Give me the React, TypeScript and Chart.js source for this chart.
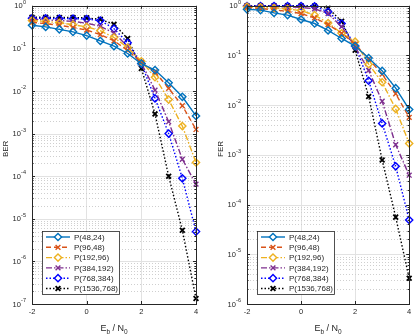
import React, { useEffect, useRef } from 'react';
import { Chart, registerables } from 'chart.js';

Chart.register(...registerables);

// ---------------- data ----------------
const ebn0 = [-2, -1.5, -1, -0.5, 0, 0.5, 1, 1.5, 2, 2.5, 3, 3.5, 4];
const seriesLabels = ['P(48,24)', 'P(96,48)', 'P(192,96)', 'P(384,192)', 'P(768,384)', 'P(1536,768)'];
const xTicks = [-2, 0, 2, 4];

const ber48 = [0.35, 0.32, 0.28, 0.245, 0.2, 0.15, 0.113, 0.076, 0.044, 0.031, 0.0156, 0.0073, 0.0026];
const ber96 = [0.41, 0.38, 0.35, 0.31, 0.27, 0.21, 0.15, 0.09, 0.047, 0.028, 0.0115, 0.0045, 0.00125];
const ber192 = [0.45, 0.43, 0.4, 0.36, 0.32, 0.26, 0.18, 0.105, 0.05, 0.021, 0.0063, 0.0015, 0.00021];
const ber384 = [0.48, 0.47, 0.45, 0.43, 0.39, 0.33, 0.23, 0.11, 0.045, 0.0105, 0.0019, 0.00025, 0.000065];
const ber768 = [0.51, 0.51, 0.5, 0.5, 0.49, 0.45, 0.29, 0.135, 0.044, 0.0067, 0.001, 0.000089, 0.000005];
const ber1536 = [0.54, 0.54, 0.53, 0.53, 0.52, 0.48, 0.37, 0.17, 0.034, 0.0029, 0.0001, 0.0000054, 0.000000135];

const fer48 = [0.85, 0.82, 0.72, 0.65, 0.53, 0.44, 0.32, 0.22, 0.155, 0.089, 0.049, 0.022, 0.0082];
const fer96 = [0.92, 0.88, 0.83, 0.77, 0.7, 0.57, 0.42, 0.28, 0.17, 0.085, 0.042, 0.017, 0.0057];
const fer192 = [0.96, 0.93, 0.9, 0.86, 0.8, 0.65, 0.45, 0.28, 0.19, 0.067, 0.029, 0.0084, 0.0017];
const fer384 = [0.98, 0.97, 0.96, 0.95, 0.93, 0.87, 0.7, 0.38, 0.15, 0.05, 0.012, 0.0016, 0.00039];
const fer768 = [0.99, 0.99, 0.99, 0.99, 0.99, 0.98, 0.76, 0.44, 0.155, 0.031, 0.0043, 0.00059, 0.000049];
const fer1536 = [1, 1, 1, 1, 1, 0.99, 0.89, 0.49, 0.128, 0.015, 0.00079, 0.000056, 0.0000033];

const berSeries = [ber48, ber96, ber192, ber384, ber768, ber1536];
const ferSeries = [fer48, fer96, fer192, fer384, fer768, fer1536];

// ---------------- styles ----------------
const FONT = '"Liberation Sans", Arial, Helvetica, sans-serif';
const TXT = '#262626';
const colors = ['#0072BD', '#D95319', '#EDB120', '#7E2F8E', '#0000FF', '#000000'];
const dashes: number[][] = [[], [5, 3], [6, 2, 1.5, 2], [6, 2, 1.5, 2], [1.5, 2], [1.5, 2]];
const markers = ['diamond', 'x', 'diamond', 'x', 'diamond', 'x'];

function buildDatasets(series: number[][]) {
  return series.map((vals, i) => ({
    label: seriesLabels[i],
    data: vals.map((v, j) => ({ x: ebn0[j], y: v })),
    borderColor: colors[i],
    borderWidth: 1.4,
    borderDash: dashes[i],
    pointStyle: markers[i] === 'diamond' ? 'rectRot' : 'crossRot',
    pointRadius: markers[i] === 'diamond' ? 3.6 : 3.4,
    pointBorderWidth: i === 5 ? 1.8 : 1.4,
    pointBackgroundColor: 'rgba(0,0,0,0)',
    pointBorderColor: colors[i],
    fill: false,
    tension: 0,
    clip: false as any,
  }));
}

function drawMarker(ctx: CanvasRenderingContext2D, kind: string, x: number, y: number, color: string, lw: number) {
  ctx.save();
  ctx.setLineDash([]);
  ctx.strokeStyle = color;
  ctx.lineWidth = lw;
  ctx.beginPath();
  if (kind === 'diamond') {
    const r = 3.6;
    ctx.moveTo(x, y - r);
    ctx.lineTo(x + r, y);
    ctx.lineTo(x, y + r);
    ctx.lineTo(x - r, y);
    ctx.closePath();
    ctx.fillStyle = '#fff';
    ctx.fill();
  } else {
    const r = 2.4;
    ctx.moveTo(x - r, y - r);
    ctx.lineTo(x + r, y + r);
    ctx.moveTo(x - r, y + r);
    ctx.lineTo(x + r, y - r);
  }
  ctx.stroke();
  ctx.restore();
}

function makePlugin(yTitle: string, minExp: number) {
  return {
    id: 'matlabLook' + yTitle,
    beforeDatasetsDraw(chart: any) {
      const { ctx, chartArea: a } = chart;
      const ys = chart.scales.y;
      ctx.save();
      for (let k = minExp; k <= 0; k++) {
        for (let m = 1; m <= 9; m++) {
          const v = m * Math.pow(10, k);
          if (v > 1 + 1e-9) continue;
          const py = Math.round(ys.getPixelForValue(v)) + 0.5;
          ctx.beginPath();
          if (m === 1) {
            ctx.setLineDash([]);
            ctx.strokeStyle = '#e2e2e2';
          } else {
            ctx.setLineDash([1, 2]);
            ctx.strokeStyle = '#cfcfcf';
          }
          ctx.lineWidth = 1;
          ctx.moveTo(a.left, py);
          ctx.lineTo(a.right, py);
          ctx.stroke();
        }
      }
      ctx.restore();
    },
    afterDatasetsDraw(chart: any) {
      const { ctx, chartArea: a } = chart;
      const ys = chart.scales.y;
      const xs = chart.scales.x;
      ctx.save();
      // box
      ctx.setLineDash([]);
      ctx.strokeStyle = TXT;
      ctx.lineWidth = 1;
      ctx.strokeRect(Math.round(a.left) + 0.5, Math.round(a.top) + 0.5, Math.round(a.right - a.left), Math.round(a.bottom - a.top));
      // tick marks
      ctx.beginPath();
      for (const t of xTicks) {
        const px = Math.round(xs.getPixelForValue(t)) + 0.5;
        ctx.moveTo(px, a.bottom);
        ctx.lineTo(px, a.bottom - 3);
        ctx.moveTo(px, a.top);
        ctx.lineTo(px, a.top + 3);
      }
      for (let k = minExp; k <= 0; k++) {
        for (let m = 1; m <= 9; m++) {
          const v = m * Math.pow(10, k);
          if (v > 1 + 1e-9) continue;
          const py = Math.round(ys.getPixelForValue(v)) + 0.5;
          const len = m === 1 ? 3 : 1.6;
          ctx.moveTo(a.left, py);
          ctx.lineTo(a.left + len, py);
          ctx.moveTo(a.right, py);
          ctx.lineTo(a.right - len, py);
        }
      }
      ctx.stroke();
      // y tick labels 10^k
      ctx.fillStyle = TXT;
      for (let k = minExp; k <= 0; k++) {
        const py = ys.getPixelForValue(Math.pow(10, k));
        const exp = String(k);
        ctx.font = `5.5px ${FONT}`;
        ctx.textAlign = 'right';
        ctx.textBaseline = 'middle';
        const right = a.left - 6;
        const ew = ctx.measureText(exp).width;
        ctx.fillText(exp, right, py - 3.5);
        ctx.font = `7.5px ${FONT}`;
        ctx.fillText('10', right - ew - 0.3, py + 0.5);
      }
      // y title
      ctx.save();
      ctx.translate(a.left - 26, (a.top + a.bottom) / 2 - 6);
      ctx.rotate(-Math.PI / 2);
      ctx.font = `8px ${FONT}`;
      ctx.textAlign = 'center';
      ctx.textBaseline = 'middle';
      ctx.fillText(yTitle, 0, 0);
      ctx.restore();
      // x title  E_b / N_0
      const parts: [string, number, number][] = [
        ['E', 9, 0],
        ['b', 6.5, 2.5],
        [' / N', 9, 0],
        ['0', 6.5, 2.5],
      ];
      let total = 0;
      for (const [s, sz] of parts) {
        ctx.font = `${sz}px ${FONT}`;
        total += ctx.measureText(s).width;
      }
      let cx = (a.left + a.right) / 2 - total / 2;
      const by = a.bottom + 27;
      ctx.textAlign = 'left';
      ctx.textBaseline = 'alphabetic';
      for (const [s, sz, off] of parts) {
        ctx.font = `${sz}px ${FONT}`;
        ctx.fillText(s, cx, by + off);
        cx += ctx.measureText(s).width;
      }
      // legend
      const lx = Math.round(a.left) + 10;
      const ly = 231.5;
      const lw = 77;
      const lh = 63;
      ctx.fillStyle = '#ffffff';
      ctx.fillRect(lx + 0.5, ly, lw, lh);
      ctx.strokeStyle = TXT;
      ctx.lineWidth = 0.8;
      ctx.strokeRect(lx + 0.5, ly, lw, lh);
      chart.data.datasets.forEach((ds: any, i: number) => {
        const ey = ly + 5.5 + i * 10.3;
        ctx.save();
        ctx.strokeStyle = ds.borderColor;
        ctx.lineWidth = 1.4;
        ctx.setLineDash(ds.borderDash || []);
        ctx.beginPath();
        ctx.moveTo(lx + 4, ey);
        ctx.lineTo(lx + 28, ey);
        ctx.stroke();
        ctx.restore();
        drawMarker(ctx, markers[i], lx + 16, ey, ds.borderColor, i === 5 ? 1.8 : 1.4);
        ctx.fillStyle = TXT;
        ctx.font = `8px ${FONT}`;
        ctx.textAlign = 'left';
        ctx.textBaseline = 'middle';
        ctx.fillText(ds.label, lx + 32, ey + 0.5);
      });
      ctx.restore();
    },
  };
}

function PlotPanel(props: { series: number[][]; yTitle: string; minExp: number; width: number; leftW: number; rightPad: number; left: number }) {
  const ref = useRef<HTMLCanvasElement | null>(null);
  useEffect(() => {
    if (!ref.current) return;
    const chart = new Chart(ref.current, {
      type: 'line',
      data: { datasets: buildDatasets(props.series) as any },
      options: {
        animation: false,
        responsive: false,
        maintainAspectRatio: false,
        devicePixelRatio: 1,
        layout: { padding: { top: 5, right: props.rightPad, left: 0, bottom: 0 } },
        plugins: { legend: { display: false }, tooltip: { enabled: false } },
        scales: {
          x: {
            type: 'linear',
            min: -2,
            max: 4,
            afterBuildTicks: (s: any) => {
              s.ticks = xTicks.map((v) => ({ value: v }));
            },
            ticks: { font: { family: FONT, size: 7.5 }, color: TXT, padding: 3, maxRotation: 0 },
            grid: { color: '#e2e2e2', drawTicks: false },
            border: { display: false },
            afterFit: (s: any) => {
              s.height = 30;
            },
          },
          y: {
            type: 'logarithmic',
            min: Math.pow(10, props.minExp),
            max: 1,
            ticks: { display: false },
            grid: { display: false },
            border: { display: false },
            afterFit: (s: any) => {
              s.width = props.leftW;
            },
          },
        },
      } as any,
      plugins: [makePlugin(props.yTitle, props.minExp) as any],
    });
    return () => chart.destroy();
  }, []);
  return (
    <canvas
      ref={ref}
      width={props.width}
      height={334}
      style={{ position: 'absolute', left: props.left, top: 0, width: props.width, height: 334 }}
    />
  );
}

export default function App() {
  return (
    <div style={{ position: 'absolute', left: 0, top: 0, width: 415, height: 334, background: '#fff' }}>
      <PlotPanel series={berSeries} yTitle="BER" minExp={-7} width={207} leftW={32} rightPad={11} left={0} />
      <PlotPanel series={ferSeries} yTitle="FER" minExp={-6} width={208} leftW={40} rightPad={3} left={207} />
    </div>
  );
}
